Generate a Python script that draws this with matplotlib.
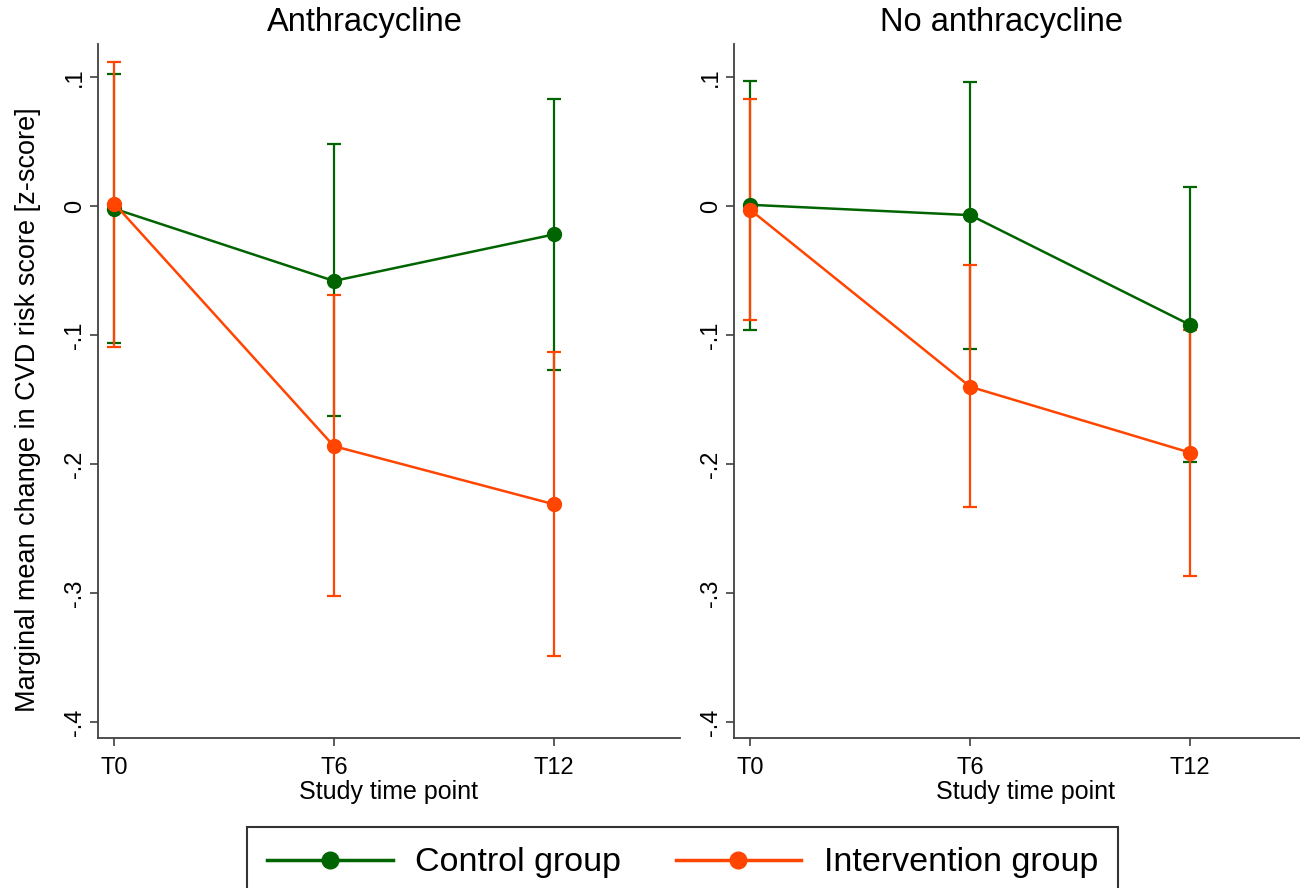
import matplotlib
matplotlib.use('Agg')
import matplotlib.pyplot as plt
import numpy as np

plt.rcParams['font.family'] = ['Liberation Sans', 'DejaVu Sans']

# study time points (months)
time = [0, 6, 12]
time_labels = ['T0', 'T6', 'T12']

panels = ['Anthracycline', 'No anthracycline']

# marginal means and 95% CI
ctrl_mean = [[-0.002, -0.058, -0.022], [0.001, -0.007, -0.092]]
ctrl_lo   = [[-0.106, -0.163, -0.127], [-0.096, -0.111, -0.198]]
ctrl_hi   = [[0.102, 0.048, 0.083], [0.097, 0.096, 0.015]]

int_mean = [[0.002, -0.186, -0.231], [-0.003, -0.140, -0.191]]
int_lo   = [[-0.109, -0.302, -0.349], [-0.088, -0.233, -0.287]]
int_hi   = [[0.112, -0.069, -0.113], [0.083, -0.046, -0.096]]

yticks = [0.1, 0, -0.1, -0.2, -0.3, -0.4]
ytick_labels = ['.1', '0', '-.1', '-.2', '-.3', '-.4']

green = '#006400'
orange = '#ff4500'
axcol = '#404040'

W, H = 1300, 888
fig = plt.figure(figsize=(13, 8.88), dpi=100)

ax_left_px = [97.7, 734]
ax_w_px = 582.3
ax_top_px, ax_bot_px = 44, 738.3

handles = []
for k in range(2):
    ax = fig.add_axes([ax_left_px[k]/W, 1-ax_bot_px/H, ax_w_px/W, (ax_bot_px-ax_top_px)/H])
    t = np.array(time)
    for mean, lo, hi, col in [(ctrl_mean[k], ctrl_lo[k], ctrl_hi[k], green),
                              (int_mean[k], int_lo[k], int_hi[k], orange)]:
        mean = np.array(mean)
        err = [mean - np.array(lo), np.array(hi) - mean]
        ax.errorbar(t, mean, yerr=err, fmt='none', ecolor=col, elinewidth=1.6,
                    capsize=4.8, capthick=1.6, zorder=2)
    l1, = ax.plot(t, ctrl_mean[k], '-o', color=green, lw=1.8, ms=10, zorder=3,
                  label='Control group')
    l2, = ax.plot(t, int_mean[k], '-o', color=orange, lw=1.8, ms=10, zorder=4,
                  label='Intervention group')
    handles = [l1, l2]

    ax.set_xlim(-0.45, 15.45)
    ax.set_ylim(-0.4124, 0.1256)
    ax.set_xticks(time)
    ax.set_xticklabels(time_labels, fontsize=17)
    ax.set_yticks(yticks)
    ax.set_yticklabels(ytick_labels, fontsize=17, rotation=90, va='center')
    for s in ['top', 'right']:
        ax.spines[s].set_visible(False)
    for s in ['left', 'bottom']:
        ax.spines[s].set_color(axcol)
        ax.spines[s].set_linewidth(1.3)
    ax.tick_params(axis='both', direction='out', length=5.5, width=1.2, color=axcol)
    ax.tick_params(axis='x', pad=8)
    ax.tick_params(axis='y', pad=3)
    ax.set_xlabel('Study time point', fontsize=18, labelpad=1)

    fig.text((ax_left_px[k] + 267)/W, 1-22/H, panels[k], fontsize=23.5,
             ha='center', va='center')

fig.text(28/W, 1-410/H, 'Marginal mean change in CVD risk score [z-score]',
         fontsize=19.5, rotation=90, ha='center', va='center')

leg = fig.legend(handles=handles, loc='upper center', ncol=2,
                 bbox_to_anchor=(682.5/W, 1-827/H), fontsize=24.5, frameon=True,
                 fancybox=False, edgecolor='black', handlelength=3.7,
                 handletextpad=0.65, columnspacing=1.6, borderpad=0.6,
                 borderaxespad=0)
leg.get_frame().set_linewidth(1.5)
for h in leg.legend_handles:
    h.set_linewidth(2.5)
    h.set_markersize(12)

fig.savefig('out.png', dpi=100)
